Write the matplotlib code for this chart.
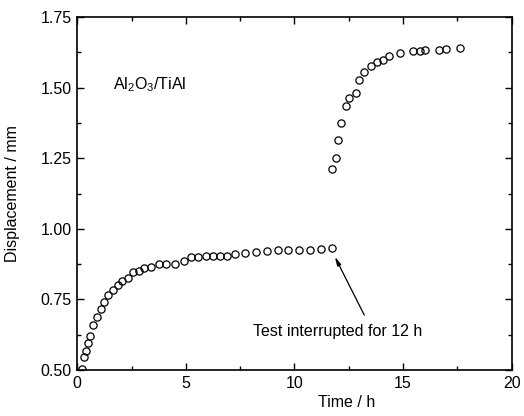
import numpy as np
import matplotlib
matplotlib.use("Agg")
import matplotlib.pyplot as plt

plt.rcParams['font.family'] = ['Liberation Sans', 'DejaVu Sans']
plt.rcParams['mathtext.fontset'] = 'custom'
plt.rcParams['mathtext.rm'] = 'Liberation Sans'
plt.rcParams['mathtext.it'] = 'Liberation Sans:italic'

# Data: before the interruption
t_before = [0.23, 0.32, 0.41, 0.51, 0.58, 0.74, 0.91, 1.08, 1.24, 1.41, 1.64, 1.89,
            2.07, 2.32, 2.58, 2.83, 3.08, 3.41, 3.75, 4.08, 4.50, 4.91, 5.23, 5.57,
            5.91, 6.24, 6.58, 6.90, 7.24, 7.73, 8.24, 8.73, 9.22, 9.71, 10.22, 10.71,
            11.21, 11.72]
d_before = [0.504, 0.547, 0.568, 0.595, 0.621, 0.658, 0.689, 0.715, 0.741, 0.766, 0.784, 0.802,
            0.815, 0.826, 0.846, 0.852, 0.860, 0.865, 0.875, 0.876, 0.875, 0.886, 0.899, 0.901,
            0.903, 0.903, 0.904, 0.904, 0.912, 0.913, 0.919, 0.922, 0.924, 0.924, 0.926, 0.926,
            0.930, 0.931]

# after the 12 h interruption
t_after = [11.72, 11.89, 12.00, 12.15, 12.37, 12.50, 12.81, 12.98, 13.19, 13.50, 13.81,
           14.08, 14.36, 14.84, 15.46, 15.77, 16.03, 16.65, 16.98, 17.60]
d_after = [1.211, 1.251, 1.313, 1.375, 1.435, 1.463, 1.480, 1.528, 1.556, 1.576, 1.590,
           1.598, 1.612, 1.621, 1.630, 1.630, 1.633, 1.635, 1.638, 1.639]

fig = plt.figure(figsize=(5.24, 4.16), dpi=100)
ax = fig.add_axes([0.1475, 0.1106, 0.829, 0.8484])

ax.plot(t_before + t_after, d_before + d_after, 'o', mfc='none', mec='black',
        ms=5.2, mew=0.9, ls='none')

ax.set_xlim(0, 20)
ax.set_ylim(0.5, 1.75)
ax.set_xticks([0, 5, 10, 15, 20])
ax.set_xticks([2.5, 7.5, 12.5, 17.5], minor=True)
ax.set_yticks([0.5, 0.75, 1.0, 1.25, 1.5, 1.75])
ax.set_yticks([0.625, 0.875, 1.125, 1.375, 1.625], minor=True)
ax.set_yticklabels(['0.50', '0.75', '1.00', '1.25', '1.50', '1.75'])

ax.tick_params(which='both', direction='in', top=True, right=True, width=1.0,
               labelsize=11.5, pad=4)
ax.tick_params(which='major', length=5)
ax.tick_params(which='minor', length=3)
for s in ax.spines.values():
    s.set_linewidth(1.2)

ax.set_xlabel('Time / h', fontsize=11.5)
ax.xaxis.set_label_coords(0.62, -0.072)
ax.set_ylabel('Displacement / mm', fontsize=11.5)
ax.yaxis.set_label_coords(-0.133, 0.5)

ax.text(1.64, 1.509, r'Al$_2$O$_3$/TiAl', fontsize=11.5, ha='left', va='center')

ax.annotate('', xy=(11.86, 0.901), xytext=(13.21, 0.695),
            arrowprops=dict(arrowstyle='-|>,head_length=0.5,head_width=0.12',
                            color='black', lw=0.9, shrinkA=0, shrinkB=0))
ax.text(12.0, 0.638, 'Test interrupted for 12 h', fontsize=11.5, ha='center', va='center')

fig.savefig('out.png', dpi=100)
